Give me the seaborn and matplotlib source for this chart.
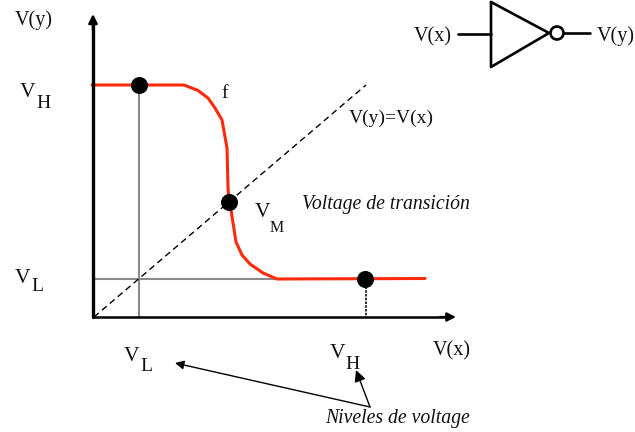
import matplotlib
matplotlib.use("Agg")
import matplotlib.pyplot as plt
import pandas as pd
import seaborn as sns
from matplotlib.patches import Circle

# Chart values, on a 635x432 drawing scale
curve_x = [92, 184, 198, 208, 215, 222, 227, 228, 229, 231, 236, 242, 250, 263, 277, 425]
curve_y = [85, 85, 90.5, 98, 108, 120, 148, 187, 202, 210, 242, 255, 264, 273, 279, 278.5]
point_x = [139, 229, 365]
point_y = [85, 202, 279]
identity_x = [94, 366]
identity_y = [317, 85]
triangle_x = [491, 491, 549, 491]
triangle_y = [2, 67, 33, 2]

labels = [
    (15, 25, "V(y)", 14.5, "normal"), (20, 97, "V", 15.5, "normal"), (36, 108, "H", 14, "normal"),
    (15, 283, "V", 15.5, "normal"), (31, 291, "L", 14, "normal"), (221, 98, "f", 14, "normal"),
    (349, 123, "V(y)=V(x)", 14, "normal"), (255, 217, "V", 15.5, "normal"), (270, 232, "M", 11.5, "normal"),
    (302, 209, "Voltage de transición", 14.2, "italic"), (433, 355, "V(x)", 14.5, "normal"),
    (124, 361, "V", 15.5, "normal"), (140, 371, "L", 14, "normal"), (330, 358, "V", 15.5, "normal"),
    (345, 369, "H", 14, "normal"), (325, 423, "Niveles de voltage", 14.2, "italic"),
    (414, 41, "V(x)", 14.5, "normal"), (597, 41, "V(y)", 14.5, "normal"),
]

sns.set_theme(style="white")
plt.rcParams["font.family"] = ["Liberation Serif", "DejaVu Serif"]
fig = plt.figure(figsize=(6.35, 4.32), dpi=100)
ax = fig.add_axes([0, 0, 1, 1])

def seg(xs, ys, **kw):
    d = pd.DataFrame({"x": xs, "y": ys})
    sns.lineplot(data=d, x="x", y="y", ax=ax, sort=False, estimator=None, legend=False, **kw)

# guide lines
seg([139, 139], [85, 317], color="#8a8a8a", lw=1.5)
seg([93, 277], [279, 279], color="#8a8a8a", lw=1.5)
seg([366, 366], [279, 317], color="#333333", lw=1.5, linestyle=(0, (1.2, 0.6)))
seg(identity_x, identity_y, color="black", lw=1.0, linestyle=(0, (4.5, 3)))
# curve
seg(curve_x, curve_y, color="#ff2a0a", lw=2.2)
# axes
seg([93, 93], [317, 24], color="black", lw=2.4)
seg([93, 445], [317, 317], color="black", lw=1.8)
ax.annotate("", xy=(93, 14), xytext=(93, 30), arrowprops=dict(arrowstyle="-|>", color="black", lw=1.8, mutation_scale=13, shrinkA=0, shrinkB=0))
ax.annotate("", xy=(456, 317), xytext=(440, 317), arrowprops=dict(arrowstyle="-|>", color="black", lw=1.6, mutation_scale=13, shrinkA=0, shrinkB=0))
# points
pts = pd.DataFrame({"x": point_x, "y": point_y})
sns.scatterplot(data=pts, x="x", y="y", ax=ax, color="black", s=150, linewidth=0, zorder=5, legend=False)
# inverter
seg(triangle_x, triangle_y, color="black", lw=1.9)
seg([458, 491], [34, 34], color="black", lw=1.9)
seg([564, 590], [33, 33], color="black", lw=1.9)
ax.add_patch(Circle((557, 33), 6.5, fc="white", ec="black", lw=1.9, zorder=4))
# notes
ax.annotate("", xy=(175, 363), xytext=(370, 407), arrowprops=dict(arrowstyle="-|>", color="black", lw=1, mutation_scale=13, shrinkA=0, shrinkB=0))
ax.annotate("", xy=(356, 370), xytext=(370, 407), arrowprops=dict(arrowstyle="-|>", color="black", lw=1, mutation_scale=17, shrinkA=0, shrinkB=0))

for x, y, s, size, st in labels:
    ax.text(x, y, s, fontsize=size, style=st, color="#111111", va="baseline", ha="left")

ax.set_xlim(0, 635)
ax.set_ylim(432, 0)
ax.axis("off")
fig.savefig("out.png", dpi=100, facecolor="white")
